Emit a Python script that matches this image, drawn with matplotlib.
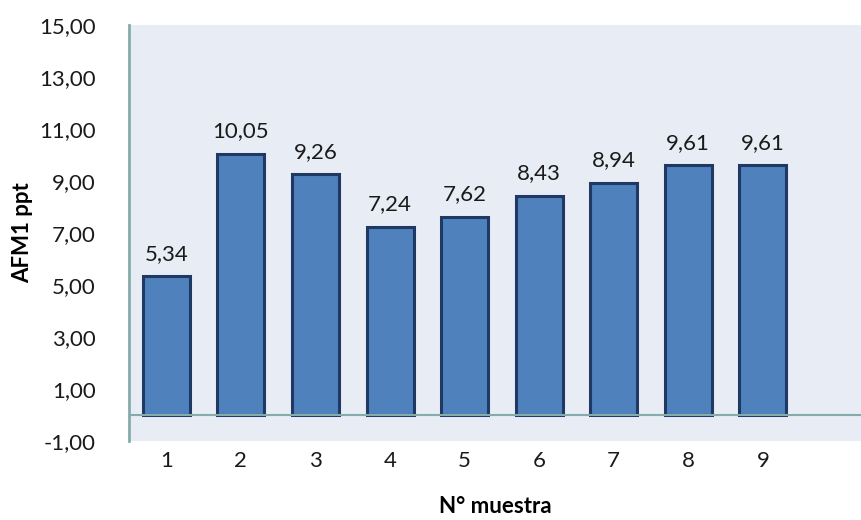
import numpy as np
import matplotlib.pyplot as plt

# AFM1 results per sample
muestras = [1, 2, 3, 4, 5, 6, 7, 8, 9]
afm1 = [5.34, 10.05, 9.26, 7.24, 7.62, 8.43, 8.94, 9.61, 9.61]
y_ticks = [-1, 1, 3, 5, 7, 9, 11, 13, 15]

plt.rcParams['font.family'] = ['Lato', 'DejaVu Sans']

fig = plt.figure(figsize=(8.62, 5.2), dpi=100)
ax = fig.add_axes([0.1497, 0.152, 0.8503, 0.8])
ax.set_facecolor('#E8ECF4')

ax.bar(muestras, afm1, width=0.63, color='#4F81BD', edgecolor='#1F3864',
       linewidth=2.2, zorder=2)
ax.axhline(0, color='#86ABAB', linewidth=1.5, zorder=3)

for x, v in zip(muestras, afm1):
    ax.annotate(f"{v:.2f}".replace('.', ','), (x, v), xytext=(0, 9),
                textcoords='offset points', ha='center', va='bottom',
                fontsize=16, color='#1a1a1a')

ax.set_xlim(0.5, 10.33)
ax.set_ylim(-1, 15)
ax.set_yticks(y_ticks)
ax.set_yticklabels([f"{t:.2f}".replace('.', ',') for t in y_ticks])
ax.set_xticks(muestras)
ax.tick_params(axis='both', length=0, labelsize=16, colors='#1a1a1a')
ax.tick_params(axis='y', pad=24)
ax.tick_params(axis='x', pad=7)

for s in ['top', 'right', 'bottom']:
    ax.spines[s].set_visible(False)
ax.spines['left'].set_color('#86ABAB')
ax.spines['left'].set_linewidth(2)

ax.set_ylabel('AFM1 ppt', fontsize=16, fontweight='bold', labelpad=4)
ax.set_xlabel('N° muestra', fontsize=16, fontweight='bold', labelpad=18)

fig.savefig('out.png', dpi=100)
